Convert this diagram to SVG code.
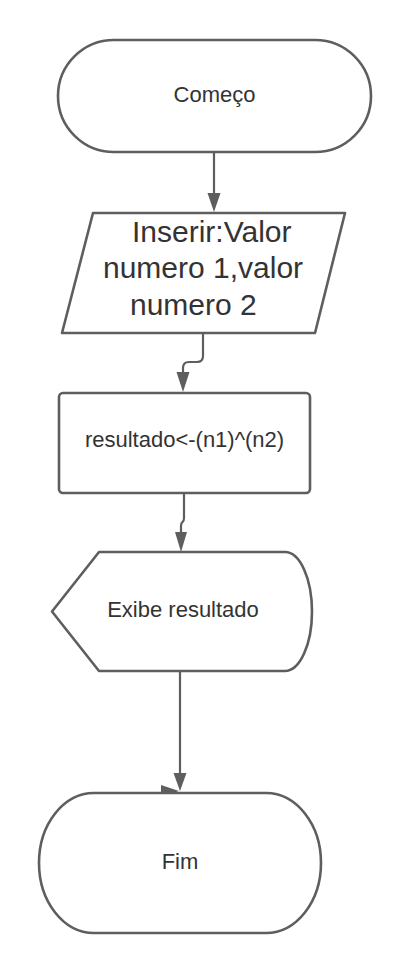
<svg xmlns="http://www.w3.org/2000/svg" width="410" height="973" viewBox="0 0 410 973">
<style>
.shape{fill:#ffffff;stroke:#5e5e5e;stroke-width:2.6;stroke-linejoin:round}
.line{fill:none;stroke:#5e5e5e;stroke-width:2.2}
.head{fill:#5e5e5e;stroke:none}
text{font-family:"Liberation Sans",Arial,sans-serif;fill:#333333}
.t22{font-size:22px}
.t30{font-size:30px}
</style>
<rect width="410" height="973" fill="#ffffff"/>
<g id="connectors">
<path class="line" d="M214,152 V194"/>
<polygon class="head" points="207.5,193 220.5,193 214,212"/>
<path class="line" d="M203,333 V356 Q203,362 197,362 H189 Q183,362 183,368 V373"/>
<polygon class="head" points="176.5,372 189.5,372 183,392"/>
<path class="line" d="M184,493 V518 Q184,521 182.5,522 Q181,523 181,526 V533"/>
<polygon class="head" points="175,532 187,532 181,552"/>
<path class="line" d="M180,671 V774"/>
<polygon class="head" points="173.5,773 186.5,773 180,791"/>
<polygon class="head" points="161,785 179,791 161,797"/>
</g>
<g id="start">
<rect class="shape" x="58" y="40" width="313" height="112" rx="56" ry="56"/>
<text class="t22" x="214.5" y="102" text-anchor="middle">Começo</text>
</g>
<g id="input">
<polygon class="shape" points="93,213 345,213 315,333 62,333"/>
<text class="t30" x="132" y="242">Inserir:Valor</text>
<text class="t30" x="103" y="278">numero 1,valor</text>
<text class="t30" x="130" y="315">numero 2</text>
</g>
<g id="process">
<rect class="shape" x="59" y="393" width="251" height="100" rx="4" ry="4"/>
<text class="t22" x="184.5" y="447" text-anchor="middle">resultado&lt;-(n1)^(n2)</text>
</g>
<g id="display">
<path class="shape" d="M99,552 H285 A27,59.5 0 0 1 285,671 H99 L52,611.5 Z"/>
<text class="t22" x="183" y="617" text-anchor="middle">Exibe resultado</text>
</g>
<g id="end">
<rect class="shape" x="39" y="793" width="282" height="140" rx="55" ry="70"/>
<text class="t22" x="180" y="869" text-anchor="middle">Fim</text>
</g>
</svg>
